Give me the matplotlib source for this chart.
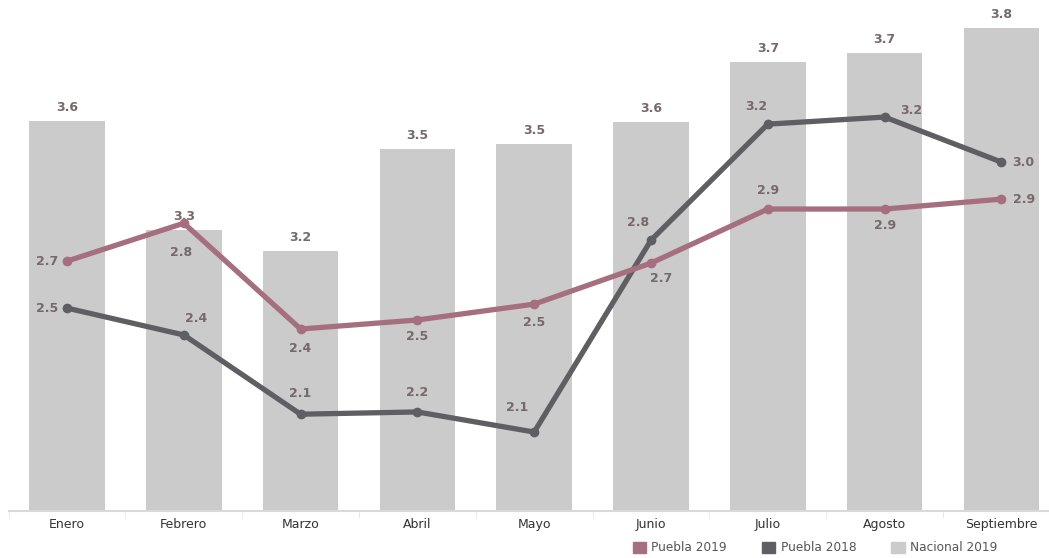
import numpy as np
import matplotlib
matplotlib.use("Agg")
import matplotlib.pyplot as plt
from matplotlib.patches import Patch

meses = ["Enero", "Febrero", "Marzo", "Abril", "Mayo", "Junio", "Julio", "Agosto", "Septiembre"]
nacional_2019 = [3.565, 3.284, 3.23, 3.493, 3.506, 3.563, 3.717, 3.74, 3.805]
puebla_2019 = [2.687, 2.821, 2.447, 2.479, 2.535, 2.68, 2.871, 2.871, 2.906]
puebla_2018 = [2.521, 2.426, 2.146, 2.154, 2.083, 2.761, 3.171, 3.196, 3.037]

# label placement (dx, dy in points) for each point of the lines
pos_2019 = [(-14, 0), (-2, -21), (0, -14), (0, -12), (0, -13), (7, -11), (0, 13), (0, -12), (16, 0)]
pos_2018 = [(-14, 0), (9, 12), (0, 15), (0, 14), (-12, 18), (-9, 13), (-8, 13), (19, 5), (16, 0)]

c_nac = "#cbcbcb"
c_p19 = "#a66f80"
c_p18 = "#5f5f63"
c_lbl = "#76696a"

W, H = 1049, 558
fig = plt.figure(figsize=(W / 100, H / 100), dpi=100)
x = np.arange(len(meses))

# axes placed so the categories match the reference pixel grid
left = 8.6 / W
width = 116.8 * 9 / W
bottom = 1 - 511 / H
ax = fig.add_axes([left, bottom, width, 511 / H])
ax2 = ax.twinx()

ax.bar(x, nacional_2019, width=0.648, color=c_nac, zorder=1)
ax.set_xlim(-0.5, 8.5)
ax.set_ylim(2.56, 2.56 + 511 / 388)
ax2.set_ylim(1.804, 1.804 + 511 / 283)

for xi, v in zip(x, nacional_2019):
    ax.annotate(f"{v:.1f}", (xi, v), xytext=(0, 5), textcoords="offset points",
                ha="center", va="bottom", fontsize=9, fontweight="bold", color=c_lbl)

ax2.plot(x, puebla_2018, color=c_p18, lw=3.8, marker="o", ms=6, solid_capstyle="round")
ax2.plot(x, puebla_2019, color=c_p19, lw=3.8, marker="o", ms=6, solid_capstyle="round")

for serie, pos in [(puebla_2019, pos_2019), (puebla_2018, pos_2018)]:
    for xi, v, (dx, dy) in zip(x, serie, pos):
        ax2.annotate(f"{v:.1f}", (xi, v), xytext=(dx, dy), textcoords="offset points",
                     ha="center", va="center", fontsize=9, fontweight="bold", color=c_lbl)

for a in (ax, ax2):
    a.set_yticks([])
    for s in ["top", "right", "left"]:
        a.spines[s].set_visible(False)
ax2.spines["bottom"].set_visible(False)
ax.spines["bottom"].set_color("#d9d9d9")
ax.spines["bottom"].set_linewidth(1.5)

ax.set_xticks(x)
ax.set_xticklabels(meses, fontsize=9, color="#333333")
ax.tick_params(axis="x", length=0, pad=5)
ax.set_xticks(np.arange(len(meses) + 1) - 0.5, minor=True)
ax.tick_params(axis="x", which="minor", length=5, color="#e6e6e6")

handles = [Patch(color=c_p19, label="Puebla 2019"),
           Patch(color=c_p18, label="Puebla 2018"),
           Patch(color=c_nac, label="Nacional 2019")]
fig.legend(handles=handles, loc="center", bbox_to_anchor=(0.777, 0.018), ncol=3,
           frameon=False, fontsize=8.7, handlelength=1.1, handleheight=1.1,
           handletextpad=0.45, columnspacing=2.9, labelcolor="#555555")

fig.savefig("out.png", dpi=100)
